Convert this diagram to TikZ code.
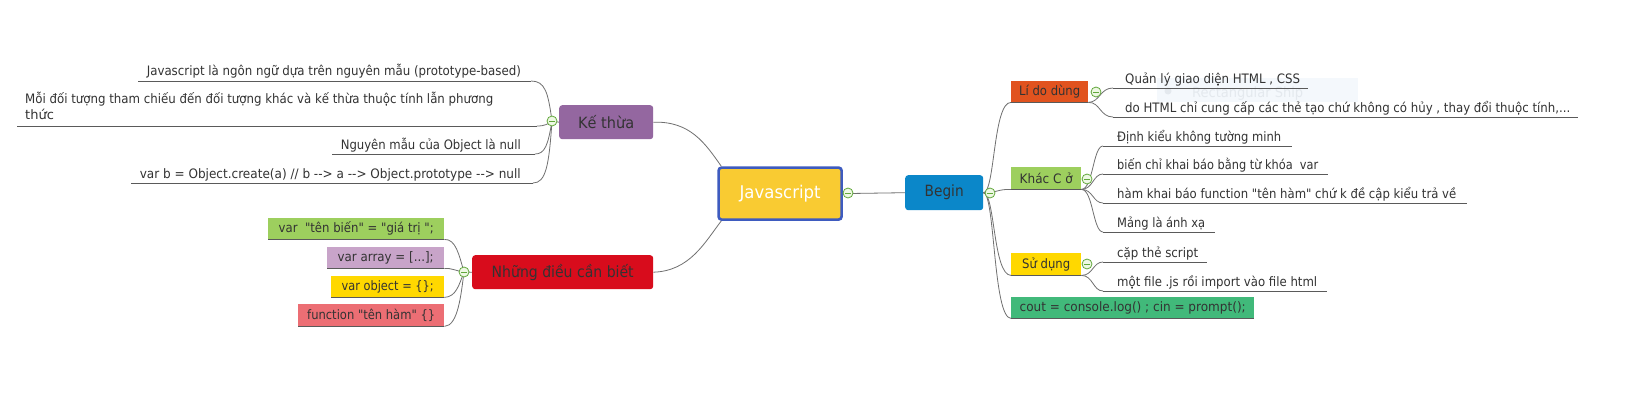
\documentclass[tikz,border=0pt]{standalone}
\usepackage{graphicx}
\usepackage{fontspec}
\setmainfont{DejaVu Sans}[Ligatures=TeXOff]
\newcommand\fw[2]{\resizebox{#1pt}{\height}{#2}}
\definecolor{txt}{HTML}{333333}
\definecolor{linec}{HTML}{707070}
\definecolor{underc}{HTML}{5A5A5A}
\definecolor{togc}{HTML}{62A83C}
\definecolor{togf}{HTML}{EEF8E4}
\definecolor{jsfill}{HTML}{F9CB32}
\definecolor{jsborder}{HTML}{3E5BBF}
\definecolor{beginfill}{HTML}{0B87C9}
\definecolor{lidofill}{HTML}{E1531F}
\definecolor{greenfill}{HTML}{9DCF5E}
\definecolor{goldfill}{HTML}{FFD800}
\definecolor{coutfill}{HTML}{41B97A}
\definecolor{kefill}{HTML}{9467A0}
\definecolor{nhfill}{HTML}{D80C1C}
\definecolor{arrfill}{HTML}{C8A4C9}
\definecolor{fnfill}{HTML}{EC6E74}
\definecolor{wmfill}{HTML}{F4F8FC}
\definecolor{wmtext}{HTML}{E4E9EE}
\begin{document}
\begin{tikzpicture}[x=1pt,y=-1pt,
  box/.style={anchor=north west, inner sep=0pt, text=txt, font=\fontsize{13}{15}\selectfont},
  mainbox/.style={box, rounded corners=3pt, font=\fontsize{15.5}{18}\selectfont},
  leaf/.style={anchor=base west, inner sep=0pt, text=txt, font=\fontsize{13}{16}\selectfont},
  leafr/.style={leaf, anchor=base east},
  conn/.style={draw=linec, line width=0.8pt},
  under/.style={draw=underc, line width=0.8pt},
  tog/.style={circle, draw=togc, fill=togf, minimum size=10pt, inner sep=0pt, line width=0.8pt,
    path picture={\draw[togc, line width=1pt] ([xshift=-2.6pt]path picture bounding box.center) -- ([xshift=2.6pt]path picture bounding box.center);}}
]
\useasboundingbox (0,0) rectangle (1625,415);
\fill[white] (0,0) rectangle (1625,415);

% faint watermark
\fill[wmfill] (1157,78) rectangle (1358,102);
\fill[wmtext] (1168,91) circle (3.5);
\node[anchor=base west, inner sep=0pt, text=wmtext, font=\fontsize{14}{16}\selectfont] (wm) at (1192,97) {\fw{111}{Rectangular Ship}};

% main nodes
\node[box, rounded corners=3pt, fill=jsfill, draw=jsborder, line width=2.6pt, minimum width=123pt, minimum height=52pt, text=white, font=\fontsize{17.5}{20}\selectfont] (js) at (717.3,166.3) {\fw{81}{Javascript}};
\node[mainbox, fill=beginfill, minimum width=78pt, minimum height=35pt] (begin) at (905,175) {\fw{39}{Begin}};
\node[mainbox, fill=kefill, minimum width=94pt, minimum height=34pt] (ke) at (559,105) {\fw{56}{Kế thừa}};
\node[mainbox, fill=nhfill, minimum width=181pt, minimum height=34pt] (nh) at (472,255) {\fw{142}{Những điều cần biết}};

% right second level
\node[box, fill=lidofill, minimum width=77pt, minimum height=21pt] (lido) at (1011,81) {\fw{61}{Lí do dùng}};
\node[box, fill=greenfill, minimum width=70pt, minimum height=22pt] (khac) at (1011,167) {\fw{53}{Khác C ở}};
\node[box, fill=goldfill, minimum width=70pt, minimum height=22pt] (sudung) at (1011,253) {\fw{48}{Sử dụng}};
\node[box, fill=coutfill, minimum width=243pt, minimum height=21pt] (cout) at (1011,297) {\fw{226}{cout = console.log() ; cin = prompt();}};

% left boxes
\node[box, fill=greenfill, minimum width=176pt, minimum height=21pt] (vten) at (268,218) {\fw{155}{var \ "tên biến" = "giá trị ";}};
\node[box, fill=arrfill, minimum width=117pt, minimum height=21pt] (varr) at (327,247) {\fw{96}{var array = [...];}};
\node[box, fill=goldfill, minimum width=113pt, minimum height=21pt] (vobj) at (331,276) {\fw{92}{var object = \{\};}};
\node[box, fill=fnfill, minimum width=146pt, minimum height=22pt] (vfn) at (298,304) {\fw{128}{function "tên hàm" \{\}}};

% box underlines
\foreach \n in {lido,khac,sudung,cout,vten,varr,vobj,vfn}{
  \draw[under] (\n.south west) -- (\n.south east);
}

% coordinates of underline ends
\coordinate (q1s) at (1113,88);  \coordinate (q1e) at (1308,88);
\coordinate (q2s) at (1113,117); \coordinate (q2e) at (1578,117);
\coordinate (k1s) at (1103,146); \coordinate (k1e) at (1292,146);
\coordinate (k2s) at (1103,174); \coordinate (k2e) at (1328,174);
\coordinate (k3s) at (1103,203); \coordinate (k3e) at (1467,203);
\coordinate (k4s) at (1103,232); \coordinate (k4e) at (1215,232);
\coordinate (s1s) at (1103,262); \coordinate (s1e) at (1207,262);
\coordinate (s2s) at (1103,291); \coordinate (s2e) at (1327,291);
\coordinate (e1s) at (531,81);  \coordinate (e1e) at (138,81);
\coordinate (e2s) at (537,126); \coordinate (e2e) at (17,126);
\coordinate (e3s) at (535,154); \coordinate (e3e) at (332,154);
\coordinate (e4s) at (533,183); \coordinate (e4e) at (131,183);

% leaf texts
\node[leaf] (q1) at (1125,83) {\fw{175}{Quản lý giao diện HTML , CSS}};
\node[leaf] (q2) at (1125,112) {\fw{445}{do HTML chỉ cung cấp các thẻ tạo chứ không có hủy , thay đổi thuộc tính,...}};
\node[leaf] (k1) at (1117,141) {\fw{164}{Định kiểu không tường minh}};
\node[leaf] (k2) at (1117,169) {\fw{201}{biến chỉ khai báo bằng từ khóa \ var}};
\node[leaf] (k3) at (1117,198) {\fw{339}{hàm khai báo function "tên hàm" chứ k đề cập kiểu trả về}};
\node[leaf] (k4) at (1117,227) {\fw{88}{Mảng là ánh xạ}};
\node[leaf] (s1) at (1117,257) {\fw{81}{cặp thẻ script}};
\node[leaf] (s2) at (1117,286) {\fw{200}{một file .js rồi import vào file html}};
\node[leafr] (e1) at (521,75) {\fw{374}{Javascript là ngôn ngữ dựa trên nguyên mẫu (prototype-based)}};
\node[leaf, anchor=north west, align=left] (e2) at (25,92) {\fw{468}{Mỗi đối tượng tham chiếu đến đối tượng khác và kế thừa thuộc tính lẫn phương}\\thức};
\node[leafr] (e3) at (521,149) {\fw{180}{Nguyên mẫu của Object là null}};
\node[leafr] (e4) at (521,178) {\fw{381}{var b = Object.create(a) // b --> a --> Object.prototype --> null}};

% connectors, centre
\draw[conn] (js.east) -- (begin.west);
\draw[conn] (ke.east) .. controls (690,121) and (705,143) .. ([xshift=4pt]js.north west);
\draw[conn] (nh.east) .. controls (690,271) and (705,242) .. ([xshift=4pt]js.south west);

% Begin branches
\draw[conn] (begin.east) .. controls (995,193) and (993,102) .. (lido.south west);
\draw[conn] (begin.east) .. controls (996,193) and (998,189) .. (khac.south west);
\draw[conn] (begin.east) .. controls (995,193) and (993,275) .. (sudung.south west);
\draw[conn] (begin.east) .. controls (995,193) and (993,318) .. (cout.south west);

% Li do children
\draw[conn] (lido.south east) .. controls (1100,102) and (1100,88) .. (q1s);
\draw[under] (q1s) -- (q1e);
\draw[conn] (lido.south east) .. controls (1100,102) and (1100,117) .. (q2s);
\draw[under] (q2s) -- (q2e);

% Khac children
\foreach \c in {k1,k2,k3,k4}{
  \draw[conn] (khac.south east) .. controls ([xshift=-10pt]khac.south east -| \c s) and ([xshift=-10pt]\c s) .. (\c s);
  \draw[under] (\c s) -- (\c e);
}
% Su dung children
\foreach \c in {s1,s2}{
  \draw[conn] (sudung.south east) .. controls ([xshift=-10pt]sudung.south east -| \c s) and ([xshift=-10pt]\c s) .. (\c s);
  \draw[under] (\c s) -- (\c e);
}

% Ke thua children
\coordinate (kec) at (552,121);
\draw[conn] (ke.west) -- (kec);
\draw[conn] (kec) .. controls (548,92) and (545,81) .. (e1s);
\draw[under] (e1s) -- (e1e);
\draw[conn] (kec) .. controls (548,124) and (545,126) .. (e2s);
\draw[under] (e2s) -- (e2e);
\draw[conn] (kec) .. controls (548,145) and (545,154) .. (e3s);
\draw[under] (e3s) -- (e3e);
\draw[conn] (kec) .. controls (549,165) and (546,183) .. (e4s);
\draw[under] (e4s) -- (e4e);

% Nhung children
\coordinate (nhc) at (464,272);
\draw[conn] (nh.west) -- (nhc);
\draw[conn] (nhc) .. controls (459,255) and (456,239) .. (vten.south east);
\draw[conn] (nhc) .. controls (456,271) and (452,268) .. (varr.south east);
\draw[conn] (nhc) .. controls (459,285) and (456,297) .. (vobj.south east);
\draw[conn] (nhc) .. controls (461,295) and (458,326) .. (vfn.south east);

% toggles
\node[tog] (t1) at (848,193) {};
\node[tog] (t2) at (990,193) {};
\node[tog] (t3) at (1096,92) {};
\node[tog] (t4) at (1087,179) {};
\node[tog] (t5) at (1087,264) {};
\node[tog] (t6) at (kec) {};
\node[tog] (t7) at (nhc) {};
\end{tikzpicture}
\end{document}
